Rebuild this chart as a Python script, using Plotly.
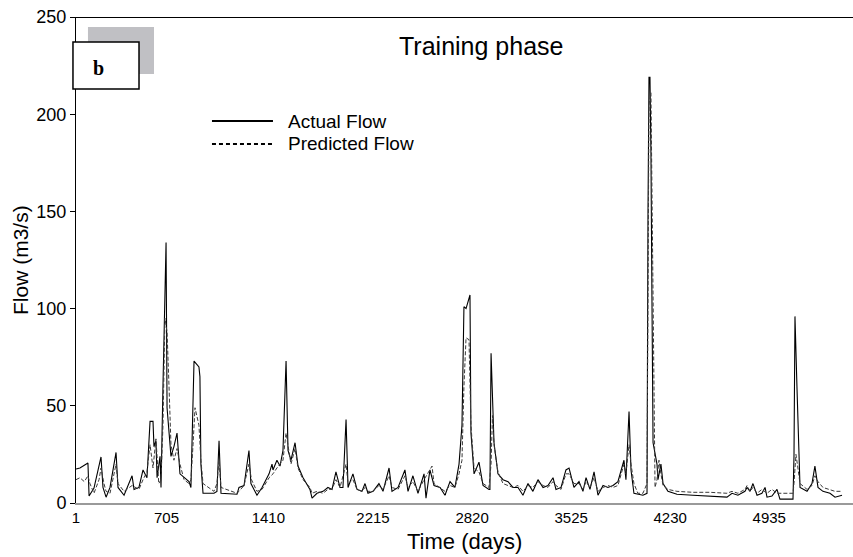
import plotly.graph_objects as go

# ---------------- data ----------------
actual_day = [1, 29, 86, 94, 129, 179, 193, 215, 243, 286, 300, 343, 400, 414, 449, 478, 506, 528, 549, 556,
              570, 578, 599, 606, 620, 634, 642, 649, 677, 698, 720, 741, 770, 805, 819, 841, 876, 883, 890, 905,
              983, 1004, 1019, 1033, 1147, 1161, 1197, 1232, 1246, 1289, 1325, 1375, 1396, 1403, 1431, 1453,
              1474, 1496, 1510, 1531, 1560, 1581, 1617, 1666, 1681, 1716, 1759, 1794, 1823, 1851, 1880, 1901,
              1923, 1937, 1972, 2001, 2036, 2058, 2079, 2115, 2157, 2186, 2229, 2250, 2293, 2342, 2364, 2399,
              2435, 2478, 2492, 2520, 2549, 2592, 2627, 2663, 2698, 2727, 2748, 2762, 2777, 2798, 2805, 2812,
              2834, 2869, 2898, 2940, 2947, 2955, 2976, 3004, 3040, 3076, 3111, 3147, 3182, 3218, 3253, 3289,
              3325, 3360, 3396, 3417, 3453, 3488, 3510, 3545, 3581, 3609, 3631, 3659, 3688, 3716, 3752, 3787,
              3823, 3858, 3880, 3901, 3915, 3937, 3951, 3972, 4036, 4065, 4072, 4079, 4086, 4093, 4100, 4108,
              4136, 4143, 4164, 4179, 4214, 4278, 4392, 4513, 4634, 4670, 4712, 4762, 4777, 4798, 4819, 4848,
              4883, 4905, 4919, 4954, 4990, 5011, 5104, 5111, 5118, 5132, 5139, 5154, 5204, 5239, 5260, 5282,
              5317, 5367, 5403, 5453]
actual_flow = [17.5, 18, 20.6, 3.6, 7.7, 23.7, 8, 3, 8, 26, 8, 4, 14, 7, 8, 17, 13, 42, 42, 29,
               32, 13, 24, 8, 60, 118, 134, 49, 24, 29, 36, 15, 13, 11, 8, 73, 70, 65, 20, 5,
               5, 6, 32, 5, 4.5, 8, 9, 27, 10, 4, 8, 15, 20, 17, 22, 19,
               27, 73, 27, 22, 31, 19, 13, 7, 2.5, 5, 6, 8, 7, 16, 8, 8,
               43, 8, 15, 7, 6, 10, 5, 6, 10, 6, 18, 6, 8, 17, 6, 14,
               5, 15, 2.5, 17, 9, 8, 4, 11, 8, 20, 40, 101, 100, 106, 107, 36,
               15, 21, 9, 7, 7, 77, 31, 15, 12, 11, 8, 8, 4, 10, 6, 12,
               8, 9, 13, 7, 8, 17, 18, 8, 11, 6, 13, 7, 16, 4, 9, 8,
               9, 11, 17, 22, 12, 47, 17, 5, 4, 5, 150, 219, 219, 180, 106, 31,
               20, 12, 20, 10, 6, 4.5, 4, 3.6, 3, 5, 4, 6, 8, 6, 10, 4,
               5, 8, 3, 3.6, 7, 2, 2, 24, 96, 60, 39, 8, 6, 10, 19, 8,
               6, 5, 3, 4]

pred_day = [1, 29, 60, 86, 100, 129, 165, 179, 200, 215, 243, 270, 286, 300, 343, 400, 449, 478, 506, 528,
            549, 570, 590, 606, 620, 634, 649, 663, 677, 698, 720, 741, 770, 805, 819, 834, 848, 876, 890, 905,
            983, 1004, 1019, 1033, 1147, 1161, 1197, 1232, 1250, 1289, 1325, 1375, 1403, 1431, 1474, 1496,
            1510, 1531, 1560, 1581, 1617, 1666, 1681, 1716, 1759, 1794, 1823, 1851, 1880, 1923, 1937, 1972,
            2001, 2036, 2058, 2079, 2115, 2157, 2186, 2229, 2250, 2293, 2342, 2364, 2399, 2435, 2478, 2535,
            2549, 2592, 2627, 2663, 2698, 2727, 2748, 2762, 2777, 2798, 2812, 2834, 2869, 2898, 2940, 2955,
            2965, 2976, 3004, 3040, 3076, 3111, 3147, 3182, 3218, 3253, 3289, 3325, 3360, 3396, 3417, 3453,
            3488, 3510, 3545, 3581, 3609, 3631, 3659, 3688, 3716, 3752, 3787, 3823, 3858, 3880, 3901, 3915,
            3937, 3951, 3972, 4000, 4036, 4065, 4079, 4093, 4108, 4122, 4136, 4150, 4164, 4179, 4214, 4278,
            4392, 4513, 4634, 4670, 4712, 4762, 4777, 4798, 4819, 4848, 4883, 4905, 4919, 4954, 4990, 5011,
            5104, 5111, 5125, 5139, 5154, 5204, 5239, 5260, 5282, 5317, 5367, 5403, 5453]
pred_flow = [12, 13, 11, 14, 10, 5, 12, 18, 10, 6, 5, 14, 20, 10, 6, 9, 7, 12, 16, 30,
             18, 33, 10, 12, 40, 95, 88, 60, 30, 22, 28, 20, 12, 10, 12, 30, 49, 40, 22, 10,
             6, 10, 22, 8, 5, 6, 9, 20, 12, 6, 7, 13, 15, 18, 22, 36,
             30, 20, 28, 18, 12, 8, 5, 6, 5, 7, 7, 12, 8, 20, 10, 12,
             7, 6, 8, 6, 6, 9, 7, 14, 8, 7, 14, 8, 11, 6, 12, 19,
             10, 8, 6, 9, 8, 15, 22, 60, 85, 84, 40, 18, 16, 10, 8, 20,
             45, 30, 16, 10, 9, 8, 9, 6, 9, 8, 11, 9, 8, 11, 9, 7,
             15, 15, 10, 10, 7, 11, 8, 13, 6, 8, 9, 8, 9, 15, 20, 15,
             30, 20, 10, 5, 5, 10, 205, 211, 100, 8, 12, 22, 15, 9, 7, 6,
             5.5, 5.5, 5, 6, 5, 7, 9, 6, 8, 5, 7, 6, 5, 7, 5, 5,
             5, 10, 25, 18, 10, 7, 9, 14, 11, 8, 7, 6, 6]

tick_text = ["1", "705", "1410", "2215", "2820", "3525", "4230", "4935"]
tick_pos = [1, 645, 1370, 2115, 2820, 3525, 4230, 4935]
y_ticks = [0, 50, 100, 150, 200, 250]

assert len(actual_day) == len(actual_flow)
assert len(pred_day) == len(pred_flow)

FONT = "Liberation Sans, Arial, sans-serif"

fig = go.Figure()
fig.add_trace(go.Scatter(x=actual_day, y=actual_flow, mode="lines", name="Actual Flow",
                         line=dict(color="#000000", width=1.1)))
fig.add_trace(go.Scatter(x=pred_day, y=pred_flow, mode="lines", name="Predicted Flow",
                         line=dict(color="#3a3a3a", width=1, dash="4px,2px")))

fig.update_layout(
    width=853, height=557,
    margin=dict(l=76, r=0, t=17, b=54),
    paper_bgcolor="white", plot_bgcolor="white",
    showlegend=False,
    font=dict(family=FONT, color="black"),
    xaxis=dict(range=[1, 5531], showgrid=False, zeroline=False, showline=True,
               linecolor="#9a9a9a", linewidth=2, ticks="",
               tickvals=tick_pos, ticktext=tick_text,
               tickfont=dict(size=15, family=FONT)),
    yaxis=dict(range=[0, 250], showgrid=False, zeroline=False, showline=True,
               linecolor="black", linewidth=1, ticks="outside", ticklen=5, tickcolor="black",
               tickvals=y_ticks, tickfont=dict(size=18, family=FONT)),
)

shapes = [
    # top border
    dict(type="line", xref="paper", yref="paper", x0=0, x1=1, y0=0.999, y1=0.999,
         line=dict(color="black", width=1.2)),
    # shadow of label box
    dict(type="rect", xref="paper", yref="paper", x0=0.0154, x1=0.1004, y0=0.8827, y1=0.9794,
         fillcolor="#c0c0c4", line=dict(width=0)),
    # label box
    dict(type="rect", xref="paper", yref="paper", x0=-0.0039, x1=0.0811, y0=0.8519, y1=0.9486,
         fillcolor="white", line=dict(color="black", width=1.5)),
    # legend samples
    dict(type="line", xref="paper", yref="paper", x0=0.175, x1=0.2535, y0=0.786, y1=0.786,
         line=dict(color="black", width=2)),
    dict(type="line", xref="paper", yref="paper", x0=0.175, x1=0.2535, y0=0.7387, y1=0.7387,
         line=dict(color="black", width=2, dash="4px,3px")),
]
fig.update_layout(shapes=shapes)

annotations = [
    dict(text="Training phase", xref="paper", yref="paper", x=0.5212, y=0.9403,
         showarrow=False, font=dict(size=25, family=FONT), xanchor="center", yanchor="middle"),
    dict(text="<b>b</b>", xref="paper", yref="paper", x=0.029, y=0.895,
         showarrow=False, font=dict(size=20, family="Liberation Serif, Times New Roman, serif"),
         xanchor="center", yanchor="middle"),
    dict(text="Actual Flow", xref="paper", yref="paper", x=0.2703, y=0.786,
         showarrow=False, font=dict(size=19, family=FONT), xanchor="left", yanchor="middle"),
    dict(text="Predicted Flow", xref="paper", yref="paper", x=0.2703, y=0.7387,
         showarrow=False, font=dict(size=19, family=FONT), xanchor="left", yanchor="middle"),
    dict(text="Time (days)", xref="paper", yref="paper", x=0.5006, y=-0.0782,
         showarrow=False, font=dict(size=22, family=FONT), xanchor="center", yanchor="middle"),
    dict(text="Flow (m3/s)", xref="paper", yref="paper", x=-0.0721, y=0.5, textangle=-90,
         showarrow=False, font=dict(size=21, family=FONT), xanchor="center", yanchor="middle"),
]
fig.update_layout(annotations=annotations)

fig.write_html("out.html")
